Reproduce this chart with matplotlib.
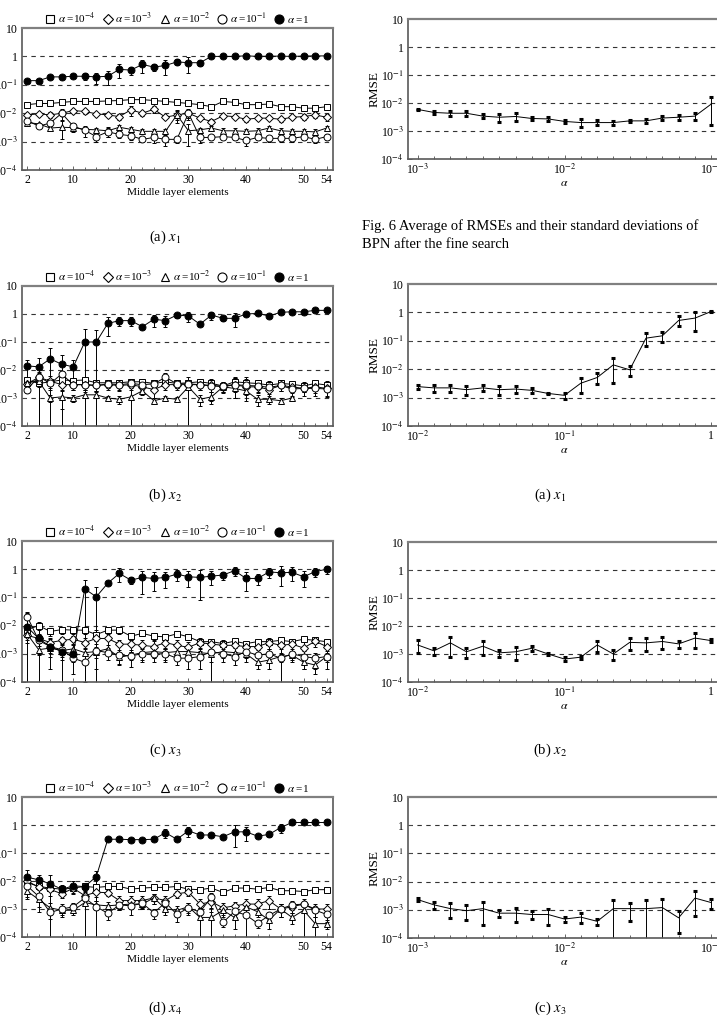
import numpy as np
import matplotlib
matplotlib.use("Agg")
import matplotlib.pyplot as plt
from matplotlib.lines import Line2D
from matplotlib.ticker import FixedLocator, FixedFormatter, NullLocator

plt.rcParams["font.family"] = ["Liberation Serif", "DejaVu Serif"]
plt.rcParams["mathtext.fontset"] = "stix"

nan = np.nan

# x values: number of middle layer elements
elements = list(range(2, 55, 2))

# alpha grids of the fine search (9 steps per decade)
alpha_fine_lo = [0.001, 0.00129, 0.00167, 0.00215, 0.00278, 0.00359, 0.00464, 0.00599, 0.00774,
                 0.01, 0.0129, 0.0167, 0.0215, 0.0278, 0.0359, 0.0464, 0.0599, 0.0774, 0.1]
alpha_fine_hi = [0.01, 0.0129, 0.0167, 0.0215, 0.0278, 0.0359, 0.0464, 0.0599, 0.0774,
                 0.1, 0.129, 0.167, 0.215, 0.278, 0.359, 0.464, 0.599, 0.774, 1.0]

legend_labels = [r"$\alpha$ =10$^{-4}$", r"$\alpha$ =10$^{-3}$", r"$\alpha$ =10$^{-2}$",
                 r"$\alpha$ =10$^{-1}$", r"$\alpha$ =1"]

# ---- left column, (a) x1 ----
a_m4 = [0.020, 0.022, 0.022, 0.024, 0.026, 0.026, 0.026, 0.027, 0.028, 0.030, 0.030, 0.028, 0.026, 0.024,
        0.022, 0.020, 0.017, 0.026, 0.024, 0.020, 0.020, 0.021, 0.017, 0.017, 0.015, 0.015, 0.017]
a_s4 = [0.001, 0.001, 0.001, 0.001, 0.001, 0.001, 0.001, 0.001, 0.001, 0.002, 0.002, 0.001, 0.002, 0.002,
        0.003, 0.002, 0.002, 0.003, 0.002, 0.002, 0.003, 0.002, 0.002, 0.002, 0.003, 0.002, 0.002]
a_m3 = [0.0087, 0.0095, 0.0087, 0.010, 0.0124, 0.0115, 0.0095, 0.0087, 0.0076, 0.0131, 0.010, 0.0138, 0.0072,
        0.0087, 0.010, 0.0067, 0.0051, 0.0081, 0.0076, 0.0061, 0.0067, 0.0067, 0.0061, 0.0072, 0.0076, 0.0087, 0.0072]
a_s3 = [0.001, 0.001, 0.002, 0.002, 0.002, 0.002, 0.001, 0.001, 0.002, 0.005, 0.002, 0.004, 0.001, 0.003,
        0.003, 0.001, 0.001, 0.001, 0.001, 0.001, 0.001, 0.001, 0.001, 0.001, 0.002, 0.002, 0.002]
a_m2 = [0.0047, 0.0042, 0.0030, 0.0032, 0.0031, 0.0027, 0.0026, 0.0024, 0.0032, 0.0027, 0.0023, 0.0023, 0.0023,
        0.0087, 0.0024, 0.0026, 0.0030, 0.0024, 0.0024, 0.0023, 0.0024, 0.0030, 0.0024, 0.0023, 0.0023, 0.0022, 0.0030]
a_s2 = [0.0005, 0.0005, 0.0005, 0.002, 0.001, 0.0005, 0.0005, 0.001, 0.0005, 0.0005, 0.0005, 0.0005, 0.0005,
        0.004, 0.0017, 0.0005, 0.0005, 0.0005, 0.0005, 0.0005, 0.0005, 0.0005, 0.0005, 0.0005, 0.0005, 0.0005, 0.0005]
a_m1 = [0.0055, 0.0035, 0.0045, 0.010, 0.0035, 0.0025, 0.0015, 0.0022, 0.0018, 0.0016, 0.0012, 0.0014, 0.0012,
        0.0012, 0.010, 0.0014, 0.0014, 0.0015, 0.0014, 0.0011, 0.0014, 0.0013, 0.0013, 0.0013, 0.0015, 0.0012, 0.0015]
a_s1 = [0.0005, 0.0005, 0.001, 0.004, 0.001, 0.001, 0.0005, 0.0008, 0.0005, 0.0005, 0.0002, 0.0005, 0.0005,
        0.0003, 0.004, 0.0005, 0.0003, 0.0003, 0.0003, 0.0004, 0.0003, 0.0003, 0.0003, 0.0003, 0.0004, 0.0003, 0.0004]
a_m0 = [0.14, 0.14, 0.19, 0.19, 0.20, 0.20, 0.19, 0.20, 0.35, 0.33, 0.52, 0.42, 0.48, 0.64,
        0.60, 0.60, 1.0, 1.0, 1.0, 1.05, 1.0, 1.02, 1.02, 1.0, 1.03, 1.04, 1.04]
a_s0 = [0.01, 0.01, 0.01, 0.01, 0.03, 0.05, 0.08, 0.1, 0.17, 0.1, 0.25, 0.12, 0.25, 0.15,
        0.35, 0.15, 0.02, 0.02, 0.02, 0.02, 0.02, 0.02, 0.02, 0.02, 0.02, 0.02, 0.02]

# ---- left column, (b) x2 ----
b_m4 = [0.0044, 0.0033, 0.0038, 0.0044, 0.0042, 0.0044, 0.0035, 0.0035, 0.0035, 0.0038, 0.0038, 0.0033, 0.0038,
        0.0033, 0.0035, 0.0038, 0.0033, 0.0027, 0.0038, 0.0035, 0.0033, 0.0029, 0.0033, 0.0031, 0.0027, 0.0033, 0.0029]
b_s4 = [0.001, 0.004, 0.001, 0.001, 0.001, 0.001, 0.001, 0.001, 0.001, 0.001, 0.001, 0.001, 0.001,
        0.001, 0.001, 0.001, 0.001, 0.001, 0.002, 0.002, 0.001, 0.001, 0.001, 0.001, 0.001, 0.001, 0.001]
b_m3 = [0.0032, 0.0055, 0.0040, 0.0030, 0.0030, 0.0030, 0.0028, 0.0030, 0.0028, 0.0030, 0.0025, 0.0020, 0.0030,
        0.0030, 0.0030, 0.0030, 0.0028, 0.0025, 0.0030, 0.0025, 0.0025, 0.0020, 0.0028, 0.0025, 0.0022, 0.0025, 0.0022]
b_s3 = [0.001, 0.003, 0.002, 0.001, 0.001, 0.001, 0.001, 0.001, 0.001, 0.001, 0.001, 0.001, 0.001,
        0.001, 0.001, 0.001, 0.002, 0.001, 0.002, 0.001, 0.001, 0.001, 0.001, 0.001, 0.0005, 0.001, 0.001]
b_m2 = [0.0035, 0.0040, 0.0010, 0.0011, 0.0010, 0.0013, 0.0013, 0.0010, 0.0009, 0.0011, 0.0018, 0.0008, 0.0010,
        0.0009, 0.0025, 0.0009, 0.0011, 0.0025, 0.0022, 0.0018, 0.0009, 0.0009, 0.0008, 0.0010, nan, nan, nan]
b_s2 = [0.001, 0.001, 0.0003, 0.0007, 0.0003, 0.0003, 0.0003, 0.0002, 0.0003, 0.0015, 0.0005, 0.0002, 0.0002,
        0.0002, 0.003, 0.0004, 0.0005, 0.0005, 0.0005, 0.0005, 0.0004, 0.0003, 0.0002, 0.0002, nan, nan, nan]
b_m1 = [0.0020, 0.0058, 0.0033, 0.0072, 0.0030, 0.0030, 0.0028, 0.0032, 0.0030, 0.0033, 0.0030, 0.0032, 0.0055,
        0.0032, 0.0032, 0.0030, 0.0027, 0.0027, 0.0030, 0.0028, 0.0027, 0.0024, 0.0028, 0.0021, 0.0022, 0.0022, 0.0021]
b_s1 = [0.0005, 0.002, 0.001, 0.002, 0.001, 0.001, 0.001, 0.001, 0.001, 0.001, 0.001, 0.001, 0.002,
        0.001, 0.001, 0.001, 0.001, 0.001, 0.002, 0.002, 0.001, 0.001, 0.001, 0.001, 0.001, 0.001, 0.001]
b_m0 = [0.014, 0.013, 0.025, 0.016, 0.013, 0.10, 0.10, 0.46, 0.58, 0.58, 0.35, 0.65, 0.58, 0.92,
        0.85, 0.43, 0.92, 0.70, 0.70, 1.0, 1.05, 0.85, 1.15, 1.2, 1.2, 1.35, 1.35]
b_s0 = [0.009, 0.013, 0.035, 0.017, 0.01, 0.18, 0.16, 0.3, 0.2, 0.2, 0.03, 0.3, 0.25, 0.2,
        0.35, 0.03, 0.3, 0.15, 0.35, 0.1, 0.05, 0.15, 0.05, 0.1, 0.05, 0.05, 0.05]

# ---- left column, (c) x3 ----
c_m4 = [0.0072, 0.010, 0.0062, 0.0072, 0.0069, 0.0069, 0.0048, 0.0069, 0.0069, 0.0042, 0.0053, 0.0042, 0.0040,
        0.0051, 0.0040, 0.0027, 0.0027, 0.0023, 0.0028, 0.0023, 0.0027, 0.0027, 0.0030, 0.0027, 0.0033, 0.0030, 0.0027]
c_s4 = [0.003, 0.003, 0.002, 0.002, 0.002, 0.002, 0.002, 0.002, 0.002, 0.001, 0.001, 0.001, 0.001,
        0.001, 0.001, 0.0005, 0.0005, 0.0005, 0.0005, 0.0005, 0.0005, 0.0005, 0.0005, 0.0005, 0.0005, 0.0005, 0.0005]
c_m3 = [0.0045, 0.0035, 0.0025, 0.0030, 0.0033, 0.0025, 0.0035, 0.0035, 0.0022, 0.0022, 0.0020, 0.0018, 0.0025,
        0.0020, 0.0017, 0.0025, 0.0022, 0.0020, 0.0020, 0.0018, 0.0018, 0.0025, 0.0020, 0.0022, 0.0016, 0.0028, 0.0018]
c_s3 = [0.002, 0.001, 0.001, 0.001, 0.001, 0.001, 0.002, 0.002, 0.001, 0.001, 0.001, 0.001, 0.001,
        0.001, 0.001, 0.001, 0.001, 0.001, 0.001, 0.001, 0.001, 0.001, 0.001, 0.001, 0.001, 0.001, 0.001]
c_m2 = [0.0050, 0.0014, 0.0016, 0.0013, 0.0015, 0.0011, 0.0012, 0.0015, 0.00075, 0.0009, 0.0011, 0.0012, 0.0011,
        0.0012, 0.0012, 0.0011, 0.0010, 0.0012, 0.0011, 0.0010, 0.0005, 0.0006, 0.0008, 0.0009, 0.0005, 0.0004, 0.0008]
c_s2 = [0.002, 0.0005, 0.0005, 0.0005, 0.0005, 0.0005, 0.0005, 0.0005, 0.0003, 0.0003, 0.0005, 0.0005, 0.0005,
        0.0005, 0.0005, 0.0005, 0.0005, 0.0005, 0.0005, 0.0005, 0.0002, 0.0003, 0.0003, 0.0003, 0.0002, 0.0002, 0.0003]
c_m1 = [0.021, 0.0030, 0.0018, 0.0014, 0.0007, 0.0005, 0.0013, 0.0011, 0.0009, 0.00085, 0.0010, 0.0010, 0.0010,
        0.0007, 0.0007, 0.0008, 0.0012, 0.0010, 0.0008, 0.0012, 0.0009, 0.0010, 0.0007, 0.0010, 0.0008, 0.0007, 0.0008]
c_s1 = [0.01, 0.002, 0.001, 0.0008, 0.0005, 0.0004, 0.001, 0.0005, 0.0005, 0.0005, 0.0005, 0.0005, 0.0005,
        0.0003, 0.0004, 0.0005, 0.0015, 0.0005, 0.0004, 0.0005, 0.0005, 0.0005, 0.0008, 0.0005, 0.0005, 0.0004, 0.0005]
c_m0 = [0.009, 0.0035, 0.0018, 0.0012, 0.0010, 0.20, 0.105, 0.32, 0.71, 0.41, 0.51, 0.47, 0.51, 0.67,
        0.54, 0.51, 0.57, 0.62, 0.89, 0.47, 0.47, 0.80, 0.75, 0.77, 0.54, 0.82, 1.0]
c_s0 = [0.019, 0.004, 0.0015, 0.0013, 0.0005, 0.23, 0.13, 0.05, 0.37, 0.1, 0.38, 0.3, 0.3, 0.3,
        0.3, 0.43, 0.3, 0.2, 0.3, 0.3, 0.2, 0.3, 0.5, 0.4, 0.3, 0.3, 0.3]

# ---- left column, (d) x4 ----
d_m4 = [0.0088, 0.0064, 0.0056, 0.0051, 0.0056, 0.0064, 0.0059, 0.0064, 0.0064, 0.0051, 0.0056, 0.0059, 0.0059,
        0.0064, 0.0051, 0.0049, 0.0056, 0.0039, 0.0056, 0.0056, 0.0051, 0.0059, 0.0045, 0.0045, 0.0042, 0.0049, 0.0049]
d_s4 = [0.002, 0.001, 0.0005, 0.0005, 0.0005, 0.0005, 0.0005, 0.0005, 0.0005, 0.0005, 0.0005, 0.0005, 0.0005,
        0.0005, 0.0005, 0.0005, 0.0005, 0.0005, 0.0005, 0.0005, 0.0005, 0.0005, 0.0005, 0.0005, 0.0005, 0.0005, 0.0005]
d_m3 = [0.010, 0.006, 0.005, 0.0035, 0.0055, 0.003, 0.004, 0.0038, 0.002, 0.002, 0.002, 0.0025, 0.002,
        0.0035, 0.004, 0.0015, 0.0018, 0.0011, 0.0013, 0.0015, 0.0015, 0.002, 0.001, 0.0012, 0.0015, 0.001, 0.001]
d_s3 = [0.004, 0.003, 0.002, 0.001, 0.002, 0.001, 0.002, 0.001, 0.001, 0.001, 0.001, 0.001, 0.001,
        0.001, 0.001, 0.0008, 0.001, 0.0005, 0.0005, 0.0008, 0.0008, 0.001, 0.0005, 0.0005, 0.0008, 0.0005, 0.0005]
d_m2 = [0.0043, 0.0022, 0.0011, 0.0009, 0.0009, 0.0017, 0.0014, 0.0013, 0.0014, 0.0015, 0.0015, 0.0025, 0.0010,
        0.0009, 0.0012, 0.0005, 0.0005, 0.0009, 0.0005, 0.0012, 0.0008, 0.0004, 0.0010, 0.0005, 0.0009, 0.0003, 0.0003]
d_s2 = [0.002, 0.001, 0.0005, 0.0003, 0.0003, 0.002, 0.0005, 0.0005, 0.0005, 0.0005, 0.0005, 0.001, 0.0004,
        0.0004, 0.0005, 0.0006, 0.0006, 0.0004, 0.0003, 0.0005, 0.0003, 0.0002, 0.0005, 0.0002, 0.001, 0.0004, 0.0001]
d_m1 = [0.0067, 0.0028, 0.00075, 0.0010, 0.0012, 0.0025, 0.0012, 0.0007, 0.0014, 0.0013, 0.0016, 0.00073, 0.0017,
        0.00064, 0.0011, 0.00078, 0.0027, 0.00033, 0.00082, 0.00061, 0.00031, 0.00059, 0.0010, 0.0014, 0.0015, 0.00091, 0.00064]
d_s1 = [0.003, 0.002, 0.0003, 0.0005, 0.0005, 0.001, 0.0015, 0.0003, 0.0005, 0.0007, 0.0005, 0.0003, 0.0005,
        0.0003, 0.0005, 0.0003, 0.001, 0.0001, 0.0003, 0.0008, 0.0001, 0.0002, 0.0005, 0.0005, 0.0005, 0.0004, 0.0003]
d_m0 = [0.0137, 0.011, 0.0079, 0.0051, 0.0067, 0.0063, 0.0144, 0.31, 0.31, 0.30, 0.30, 0.31, 0.53, 0.31,
        0.62, 0.44, 0.44, 0.38, 0.57, 0.57, 0.40, 0.46, 0.81, 1.23, 1.23, 1.23, 1.23]
d_s0 = [0.011, 0.006, 0.009, 0.002, 0.003, 0.002, 0.008, 0.02, 0.02, 0.02, 0.02, 0.02, 0.2, 0.02,
        0.25, 0.1, 0.05, 0.05, 0.4, 0.3, 0.05, 0.1, 0.3, 0.05, 0.05, 0.05, 0.05]

# ---- right column: fine search ----
f6_mean = [0.0059, 0.0046, 0.0043, 0.0043, 0.0034, 0.0031, 0.0033, 0.0028, 0.0027, 0.0022,
           0.0020, 0.0020, 0.0020, 0.0023, 0.0023, 0.0029, 0.0031, 0.0034, 0.0092]
f6_std = [0.0003, 0.0004, 0.001, 0.001, 0.0005, 0.001, 0.001, 0.0003, 0.0004, 0.0003,
          0.0006, 0.0004, 0.0003, 0.0002, 0.0003, 0.0005, 0.0006, 0.001, 0.0075]
r1_mean = [0.00244, 0.0022, 0.0022, 0.0019, 0.0022, 0.0019, 0.0020, 0.0018, 0.0014, 0.0012,
           0.0032, 0.0051, 0.0142, 0.0095, 0.124, 0.15, 0.52, 0.63, 1.08]
r1_std = [0.0004, 0.0006, 0.0006, 0.0007, 0.0005, 0.0007, 0.0005, 0.0004, 0.0001, 0.0003,
          0.0018, 0.002, 0.011, 0.0038, 0.06, 0.06, 0.2, 0.4, 0.02]
r2_mean = [0.0021, 0.0013, 0.0025, 0.0012, 0.0019, 0.0011, 0.0012, 0.0016, 0.0010, 0.00066,
           0.00077, 0.0021, 0.0010, 0.0026, 0.0025, 0.0028, 0.0023, 0.0037, 0.0030]
r2_std = [0.001, 0.0004, 0.0017, 0.0005, 0.001, 0.0003, 0.0006, 0.0003, 0.0001, 0.0001,
          0.0001, 0.0009, 0.0004, 0.0012, 0.0012, 0.0013, 0.0006, 0.002, 0.0003]
r3_mean = [0.0023, 0.0015, 0.0011, 0.00093, 0.0011, 0.00076, 0.00076, 0.00068, 0.00068, 0.00047,
           0.00055, 0.00039, 0.0011, 0.0011, 0.0011, 0.0012, 0.00052, 0.0026, 0.0018]
r3_std = [0.0003, 0.0004, 0.0006, 0.0005, 0.0008, 0.0002, 0.0004, 0.0002, 0.0004, 0.0001,
          0.0002, 0.0001, 0.0011, 0.0007, 0.0011, 0.0012, 0.00037, 0.002, 0.0007]

W, H = 717, 1021
fig = plt.figure(figsize=(W / 100, H / 100), dpi=100)


def rect(x0, x1, top, bottom):
    return [x0 / W, 1 - bottom / H, (x1 - x0) / W, (bottom - top) / H]


def style_log_y(ax):
    ax.set_yscale("log")
    ax.set_ylim(1e-4, 10)
    ax.yaxis.set_major_locator(FixedLocator([1e-4, 1e-3, 1e-2, 1e-1, 1, 10]))
    ax.yaxis.set_major_formatter(FixedFormatter(
        [r"10$^{-4}$", r"10$^{-3}$", r"10$^{-2}$", r"10$^{-1}$", "1", "10"]))
    ax.yaxis.set_minor_locator(NullLocator())
    for yv in [1e-3, 1e-2, 1e-1, 1]:
        ax.axhline(yv, color="0.2", lw=0.8, ls=(0, (4, 4)), zorder=0)
    for sp in ax.spines.values():
        sp.set_color("0.35")
        sp.set_linewidth(1.2)
    ax.spines["top"].set_color("0.5")
    ax.spines["top"].set_linewidth(1.6)
    ax.tick_params(which="both", direction="in", labelsize=8.5, pad=3, width=0.6, color="0.3")
    ax.tick_params(which="major", length=3)
    ax.tick_params(which="minor", length=2.5)


markers = [("s", "white", 4.5), ("D", "white", 3.8), ("^", "white", 4.6), ("o", "white", 5.0), ("o", "black", 5.0)]


def left_panel(r, means, stds, caption, cap_y):
    ax = fig.add_axes(r)
    for (mk, fc, ms), m, s in zip(markers, means, stds):
        ax.errorbar(elements, m, yerr=s, color="k", lw=0.7, elinewidth=0.7, capsize=1.4, capthick=1.8,
                    marker=mk, mfc=fc, mec="k", mew=0.7, ms=ms)
    style_log_y(ax)
    ax.set_xlim(1.1, 55.1)
    ax.xaxis.set_major_locator(FixedLocator([2, 10, 20, 30, 40, 50, 54]))
    ax.xaxis.set_minor_locator(FixedLocator(elements))
    ax.set_xlabel("Middle layer elements", fontsize=8.2, labelpad=1.2)
    handles = [Line2D([], [], ls="none", marker=mk, mfc=fc, mec="k", mew=0.8, ms=ms + 1.5)
               for mk, fc, ms in markers]
    ax.legend(handles, legend_labels, loc="lower center", bbox_to_anchor=(0.5, 1.0), ncol=5, frameon=False,
              fontsize=8, handlelength=0.8, handletextpad=0.3, columnspacing=0.7, borderaxespad=0.1,
              borderpad=0.1)
    fig.text(165 / W, 1 - cap_y / H, caption, ha="center", va="center", fontsize=10.5)
    return ax


def right_panel(r, alphas, mean, std, decades, caption=None, cap_y=None):
    ax = fig.add_axes(r)
    ax.errorbar(alphas, mean, yerr=std, color="k", lw=0.7, elinewidth=0.7, capsize=1.6, capthick=2.2)
    style_log_y(ax)
    ax.set_xscale("log")
    lo, hi = decades[0], decades[-1]
    ax.set_xlim(10 ** (lo - 0.066), 10 ** (hi + 0.066))
    ax.xaxis.set_major_locator(FixedLocator([10.0 ** d for d in decades]))
    ax.xaxis.set_major_formatter(FixedFormatter(
        ["1" if d == 0 else r"10$^{%d}$" % d for d in decades]))
    ax.xaxis.set_minor_locator(FixedLocator(alphas))
    ax.xaxis.set_minor_formatter(FixedFormatter([""] * len(alphas)))
    ax.set_xlabel(r"$\alpha$", fontsize=8.5, labelpad=0)
    ax.set_ylabel("RMSE", fontsize=9.5, labelpad=0)
    if caption:
        fig.text(550 / W, 1 - cap_y / H, caption, ha="center", va="center", fontsize=10.5)
    return ax


left_panel(rect(22, 333, 28, 170), [a_m4, a_m3, a_m2, a_m1, a_m0], [a_s4, a_s3, a_s2, a_s1, a_s0],
           r"(a) $x_1$", 237)
left_panel(rect(22, 333, 286, 426), [b_m4, b_m3, b_m2, b_m1, b_m0], [b_s4, b_s3, b_s2, b_s1, b_s0],
           r"(b) $x_2$", 495)
left_panel(rect(22, 333, 541, 682), [c_m4, c_m3, c_m2, c_m1, c_m0], [c_s4, c_s3, c_s2, c_s1, c_s0],
           r"(c) $x_3$", 750)
left_panel(rect(22, 333, 797, 937), [d_m4, d_m3, d_m2, d_m1, d_m0], [d_s4, d_s3, d_s2, d_s1, d_s0],
           r"(d) $x_4$", 1008)

right_panel(rect(408, 721, 19, 159), alpha_fine_lo, f6_mean, f6_std, [-3, -2, -1])
fig.text(362 / W, 1 - 226 / H, "Fig. 6 Average of RMSEs and their standard deviations of",
         fontsize=10.5, va="center")
fig.text(362 / W, 1 - 245 / H, "BPN after the fine search", fontsize=10.5, va="center")
right_panel(rect(408, 721, 284, 426), alpha_fine_hi, r1_mean, r1_std, [-2, -1, 0], r"(a) $x_1$", 495)
right_panel(rect(408, 721, 542, 682), alpha_fine_hi, r2_mean, r2_std, [-2, -1, 0], r"(b) $x_2$", 750)
right_panel(rect(408, 721, 797, 938), alpha_fine_lo, r3_mean, r3_std, [-3, -2, -1], r"(c) $x_3$", 1008)

fig.savefig("out.png", dpi=100)
